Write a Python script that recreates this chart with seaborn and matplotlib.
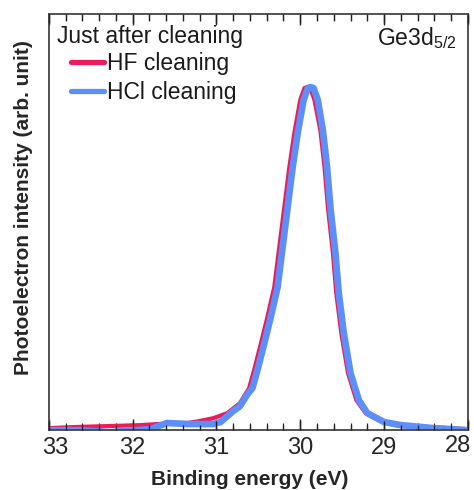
import matplotlib
matplotlib.use("Agg")
import matplotlib.pyplot as plt
import matplotlib.transforms as mtransforms
from matplotlib.ticker import MultipleLocator
import seaborn as sns
import pandas as pd

sns.set_theme(style="ticks", rc={"xtick.top": True, "xtick.bottom": True,
                                 "xtick.direction": "in"})
plt.rcParams["font.family"] = ["Liberation Sans", "DejaVu Sans"]
plt.rcParams["mathtext.fontset"] = "custom"
plt.rcParams["mathtext.rm"] = "Liberation Sans"
plt.rcParams["mathtext.it"] = "Liberation Sans"

# Ge3d spectra, binding energy (eV) vs normalised intensity
hf_energy = [33.00, 32.73, 31.90, 31.70, 31.34, 31.22, 31.04, 30.87, 30.72,
             30.61, 30.55, 30.48, 30.40, 30.31, 30.25, 30.19, 30.13, 30.07, 30.00,
             29.95, 29.92, 29.88, 29.83, 29.76, 29.71, 29.67, 29.61, 29.57, 29.51,
             29.43, 29.33, 29.22, 29.02, 28.80, 28.41, 28.00]
hf_intensity = [0.000, 0.003, 0.009, 0.012, 0.015, 0.020, 0.029, 0.044, 0.073,
                0.117, 0.170, 0.237, 0.316, 0.412, 0.529, 0.646, 0.763, 0.863, 0.959,
                0.994, 0.997, 0.994, 0.959, 0.871, 0.763, 0.646, 0.512, 0.395, 0.278,
                0.161, 0.082, 0.044, 0.018, 0.006, 0.003, -0.003]

hcl_energy = [33.00, 32.63, 32.27, 31.97, 31.79, 31.59, 31.31, 31.04, 30.95, 30.80,
              30.72, 30.63, 30.57, 30.51, 30.44, 30.36, 30.27, 30.21, 30.15, 30.09,
              30.03, 29.96, 29.91, 29.88, 29.84, 29.79, 29.73, 29.68, 29.64, 29.58,
              29.54, 29.48, 29.40, 29.30, 29.20, 29.00, 28.80, 28.41, 28.00]
hcl_intensity = [-0.006, -0.006, -0.012, -0.006, -0.003, 0.015, 0.012, 0.012, 0.018, 0.050,
                 0.064, 0.099, 0.117, 0.170, 0.237, 0.316, 0.412, 0.529, 0.646, 0.763,
                 0.863, 0.959, 0.994, 0.997, 0.994, 0.959, 0.871, 0.763, 0.646, 0.512,
                 0.395, 0.278, 0.161, 0.082, 0.044, 0.018, 0.009, 0.000, -0.006]

series_names = ["HF cleaning", "HCl cleaning"]
series_colors = ["#EE1B5B", "#5E8EF7"]
series_widths = [3.0, 4.8]

df = pd.concat([
    pd.DataFrame({"energy": hf_energy, "intensity": hf_intensity, "sample": series_names[0]}),
    pd.DataFrame({"energy": hcl_energy, "intensity": hcl_intensity, "sample": series_names[1]}),
])

fig = plt.figure(figsize=(4.74, 4.90), dpi=100)
ax = fig.add_axes([0.103, 0.122, 0.884, 0.849])

for name, color, lw in zip(series_names, series_colors, series_widths):
    sns.lineplot(data=df[df["sample"] == name], x="energy", y="intensity",
                 color=color, lw=lw, ax=ax, label=name, sort=False,
                 estimator=None, solid_joinstyle="round", solid_capstyle="round")

ax.set_xlim(33, 28)
ax.set_ylim(-0.006, 1.21)
ax.xaxis.set_major_locator(MultipleLocator(1))
ax.xaxis.set_minor_locator(MultipleLocator(0.2))
ax.tick_params(axis="y", which="both", left=False, right=False, labelleft=False)
ax.tick_params(axis="x", which="major", length=8, width=1.0, labelsize=17, pad=5)
ax.tick_params(axis="x", which="minor", length=5, width=0.9)

for s in ax.spines.values():
    s.set_color("#444444")
    s.set_linewidth(1.3)

ax.set_xlabel("Binding energy (eV)", fontsize=15, fontweight="bold")
ax.set_ylabel("Photoelectron intensity (arb. unit)", fontsize=15, fontweight="bold")
ax.xaxis.set_label_coords(0.4785, -0.096)
ax.yaxis.set_label_coords(-0.037, 0.536)

ax.text(0.02, 0.975, "Just after cleaning", transform=ax.transAxes, fontsize=16.5,
        ha="left", va="top", color="#1a1a1a")
ax.text(0.972, 0.975, "Ge3d$_{5/2}$", transform=ax.transAxes, fontsize=16.5,
        ha="right", va="top", color="#1a1a1a")

leg = ax.legend(loc="upper left", bbox_to_anchor=(0.052, 0.91), frameon=False,
                fontsize=16.5, handlelength=1.45, handletextpad=0.15, labelspacing=0.28,
                borderaxespad=0.0, borderpad=0.0)
for t in leg.get_texts():
    t.set_color("#1a1a1a")
for h, c in zip(leg.get_lines(), series_colors):
    h.set_linewidth(3.8)
    h.set_color(c)

# inward tick marks on the bottom and top edges, at the locator positions
xt = ax.get_xaxis_transform()
lo, hi = sorted(ax.get_xlim())
major_locs = [v for v in ax.xaxis.get_majorticklocs() if lo - 1e-9 <= v <= hi + 1e-9]
minor_locs = [v for v in ax.xaxis.get_minorticklocs() if lo - 1e-9 <= v <= hi + 1e-9]
for locs, length, width in ((major_locs, 0.022, 1.0), (minor_locs, 0.013, 0.9)):
    ax.vlines(locs, 0, length, transform=xt, colors="#222222", lw=width,
              clip_on=False, zorder=4)
    ax.vlines(locs, 1 - length, 1, transform=xt, colors="#222222", lw=width,
              clip_on=False, zorder=4)

# keep the end labels inside the figure
fig.canvas.draw()
shift_first = mtransforms.ScaledTranslation(6 / 100, 0, fig.dpi_scale_trans)
shift_last = mtransforms.ScaledTranslation(-10 / 100, 2 / 100, fig.dpi_scale_trans)
for lab in ax.get_xticklabels():
    if lab.get_text() == "33":
        lab.set_transform(lab.get_transform() + shift_first)
    if lab.get_text() == "28":
        lab.set_transform(lab.get_transform() + shift_last)

fig.savefig("out.png", dpi=100)
